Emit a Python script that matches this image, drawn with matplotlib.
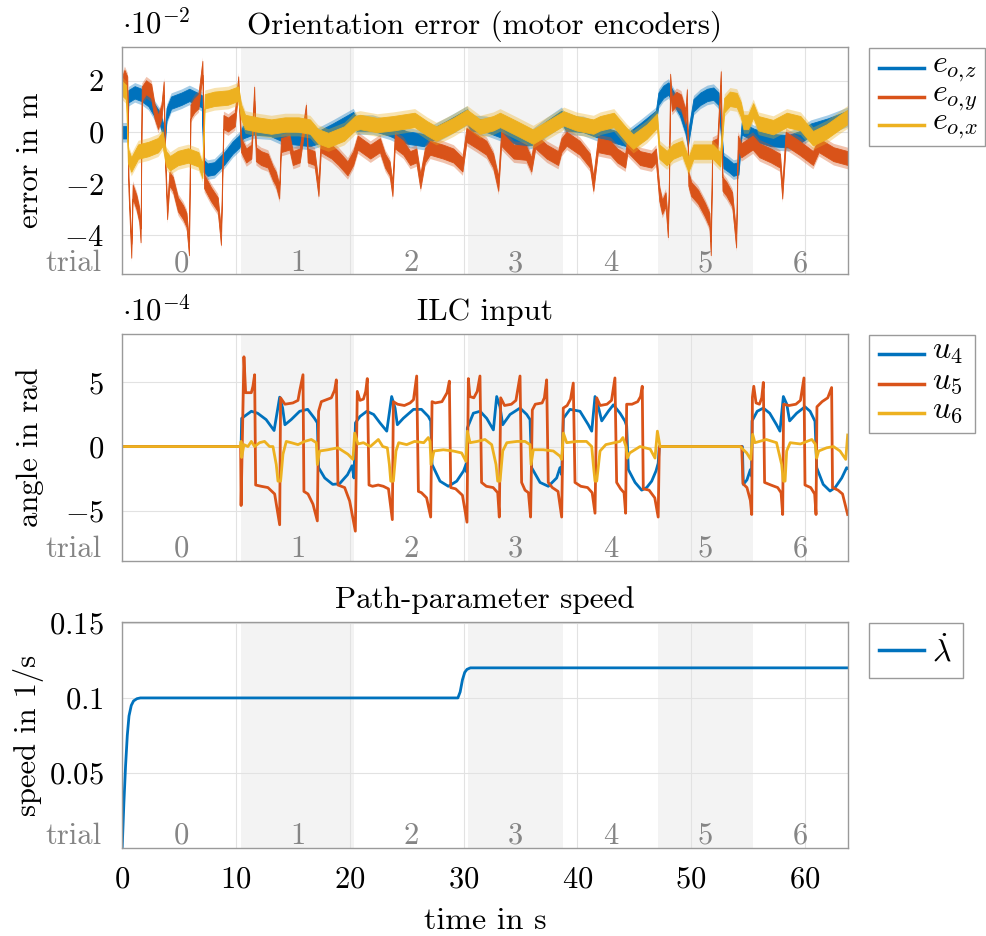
import numpy as np
import matplotlib.pyplot as plt
from matplotlib.lines import Line2D
from matplotlib.patches import Rectangle
from matplotlib.transforms import blended_transform_factory

plt.rcParams['font.family'] = 'serif'
plt.rcParams['font.serif'] = ['cmr10']
plt.rcParams['mathtext.fontset'] = 'cm'
plt.rcParams['axes.unicode_minus'] = False
plt.rcParams['font.size'] = 22

c_blue = '#0072BD'
c_orange = '#D95319'
c_yellow = '#EDB120'
c_gray = '#858585'

# trial boundaries in s
trial_edges = [0.0, 10.44, 20.37, 30.36, 38.7, 47.1, 55.4, 63.75]
trial_names = ['0', '1', '2', '3', '4', '5', '6']

# orientation error (x 1e-2), knots read per series
eoz_t = [0.0, 0.45, 0.55, 1.1, 1.7, 2.3, 2.85, 3.3, 3.6, 3.75, 3.9, 4.3, 5.2, 5.9, 6.6, 7.0, 7.15, 7.5, 8.1,
         9.0, 9.7, 10.3, 10.6, 11.5, 13.0, 14.5, 16.5, 17.2, 18.5, 20.3, 20.6, 22.0, 23.5, 25.0, 26.5, 27.2,
         28.5, 30.3, 30.6, 32.0, 33.5, 35.0, 36.0, 37.3, 38.6, 39.0, 40.5, 42.0, 43.5, 44.3, 45.5, 46.9, 47.12,
         47.55, 48.0, 48.3, 49.0, 49.5, 49.7, 50.2, 50.8, 51.4, 51.95, 52.4, 52.83, 53.3, 53.7, 54.15, 54.44,
         55.5, 57.0, 58.5, 59.5, 60.5, 62.0, 63.75]
eoz_v = [0.0, 0.0, 1.4, 1.55, 1.45, 1.25, 0.85, 0.55, 0.1, -0.2, 0.7, 1.15, 1.3, 1.45, 1.3, 1.2, -1.3, -1.45, -1.4,
         -1.0, -0.6, -0.35, 0.0, 0.15, 0.1, -0.2, -0.3, -0.2, 0.1, 0.55, 0.3, 0.3, 0.1, -0.2, -0.3, -0.1,
         0.2, 0.65, 0.3, 0.25, 0.0, -0.3, -0.25, 0.2, 0.6, 0.3, 0.25, 0.0, -0.2, -0.3, 0.1, 0.6, 1.3,
         1.57, 1.7, 1.45, 0.9, 0.2, -0.3, 1.05, 1.3, 1.45, 1.5, 1.3, -1.15, -1.3, -1.45, -1.4, 0.15,
         -0.1, -0.3, -0.35, -0.2, 0.1, 0.3, 0.6]

eoy_t = [0.0, 0.2, 0.45, 0.55, 0.8, 0.92, 1.25, 1.5, 1.62, 1.72, 2.1, 2.55, 2.85, 3.15, 3.45, 3.65, 3.78, 3.95,
         4.15, 4.45, 4.9, 5.35, 5.65, 5.87, 6.0, 6.35, 6.7, 7.05, 7.2, 7.8, 8.4, 8.68, 8.9, 9.3, 9.9, 10.2,
         10.45, 10.9, 11.35, 11.6, 11.75, 12.2, 12.8, 13.25, 13.5, 13.8, 13.95, 14.7, 15.0, 15.6, 16.15, 16.3,
         16.9, 17.25, 17.45, 18.4, 19.0, 19.8, 20.3, 20.7, 21.8, 22.65, 23.1, 23.5, 23.75, 23.95, 24.7, 25.3,
         25.85, 26.2, 26.6, 27.05, 28.2, 29.1, 29.9, 30.25, 31.15, 32.0, 32.6, 33.05, 33.3, 34.4, 35.5, 35.95,
         36.3, 37.3, 38.3, 38.6, 39.05, 40.2, 41.1, 41.4, 41.8, 42.9, 43.5, 44.2, 44.4, 45.5, 46.5, 46.9,
         47.2, 47.45, 47.75, 47.95, 48.05, 48.15, 48.3, 48.7, 49.1, 49.5, 49.62, 49.75, 50.0, 50.6, 51.2,
         51.6, 51.72, 51.85, 52.3, 52.6, 52.75, 53.1, 53.6, 53.95, 54.1, 54.4, 55.4, 56.0, 57.0, 57.8, 58.0,
         58.3, 59.5, 60.7, 61.2, 62.5, 63.75]
eoy_v = [1.9, 2.15, 1.9, -2.0, -4.6, -2.3, -2.7, -3.2, -4.0, 1.5, 1.75, 1.6, 0.8, 0.4, 0.8, 1.7, -1.1, -3.1,
         -1.8, -2.0, -2.8, -3.1, -3.4, -4.5, 0.8, 1.05, 1.2, 2.5, -1.9, -2.4, -2.8, -4.1, 0.4, 0.3, 0.5, 1.9,
         -0.5, -0.9, -0.75, 1.5, -0.85, -1.0, -1.1, -1.6, -1.8, -2.3, -0.5, -0.4, -1.0, -0.9, 0.8, -0.9,
         -1.0, -2.2, -0.5, -0.75, -1.0, -1.4, -1.0, -0.4, -0.75, -0.5, -1.1, -1.4, -2.2, -0.35, -0.6, -1.0,
         -0.9, -1.9, -0.9, -0.6, -0.75, -0.9, -1.25, -0.1, -0.35, -0.6, -1.1, -2.0, -0.25, -0.75, -0.8, -1.25,
         -0.35, -0.75, -1.0, -0.5, -0.25, -0.6, -1.1, -2.0, -0.5, -0.6, -0.9, -1.1, -0.5, -1.0, -1.1, -0.9,
         -2.4, -2.9, -2.6, -3.8, -2.0, 2.0, 1.1, 1.3, 1.2, 0.6, 1.4, -1.8, -2.2, -2.5, -3.0,
         -3.4, -4.5, -0.6, -0.5, 2.1, -2.0, -2.2, -2.6, -4.2, -0.4, -0.7, -0.4, -0.7, -0.9, -1.1, -2.3,
         -0.25, -0.6, -1.0, -0.5, -0.85, -1.0]

eox_t = [0.0, 0.35, 0.5, 0.8, 1.4, 2.3, 3.15, 3.55, 3.85, 4.2, 4.9, 5.8, 6.7, 7.05, 7.25, 8.1, 9.3, 10.2, 10.45,
         10.8, 11.9, 13.1, 14.3, 15.5, 16.5, 17.2, 18.1, 19.5, 20.45, 20.9, 22.4, 23.8, 25.7, 26.8, 27.6, 29.1,
         30.3, 31.45, 32.6, 33.2, 34.7, 36.1, 37.3, 38.8, 39.9, 41.4, 42.0, 43.2, 44.3, 44.9, 46.1, 47.0, 47.2,
         47.85, 48.4, 49.2, 49.75, 50.2, 51.9, 52.55, 52.9, 53.4, 54.0, 54.35, 54.6, 55.0, 55.45, 55.9, 57.2,
         58.4, 59.6, 60.7, 61.9, 63.1, 63.75]
eox_v = [1.7, 1.55, -0.9, -1.25, -0.75, -0.65, -0.5, -0.25, -1.0, -1.2, -1.0, -0.9, -1.05, -1.5, 1.2, 1.3, 1.35,
         1.5, 0.8, 0.4, 0.3, 0.22, 0.3, 0.3, 0.22, -0.15, -0.3, -0.05, 0.35, 0.4, 0.28, 0.35, 0.48, 0.15, -0.05,
         0.28, 0.6, 0.22, 0.35, 0.48, 0.15, -0.17, 0.15, 0.54, 0.35, 0.22, 0.35, 0.48, -0.1, -0.36, 0.03, 0.45,
         -0.75, -1.0, -0.75, -0.6, -1.25, -0.75, -0.75, -1.05, 1.05, 1.3, 1.25, 0.9, 0.4, 0.4, 0.85, 0.35, 0.2,
         0.48, 0.35, -0.23, 0.03, 0.41, 0.6]

# noise band half widths (x 1e-2): solid core and sparse fringe
eoz_noise = (0.24, 0.38)
eoy_noise = (0.27, 0.42)
eox_noise = (0.28, 0.44)

# ILC input (x 1e-4)
u4_t = [0.0, 10.45, 10.5, 11.35, 11.9, 12.65, 13.35, 13.84, 14.1, 14.3, 14.85, 15.6, 16.3, 16.9, 17.15, 17.26,
        17.8, 18.5, 19.1, 19.8, 20.2, 20.37, 20.5, 20.9, 21.5, 22.1, 22.65, 23.25, 23.68, 23.98, 24.18, 24.7,
        25.6, 26.3, 26.9, 27.11, 27.23, 27.93, 28.66, 29.4, 30.0, 30.21, 30.28, 30.33, 30.86, 31.45, 32.03,
        32.62, 32.91, 33.2, 33.44, 34.08, 34.96, 35.55, 35.84, 35.98, 36.72, 37.45, 38.18, 38.47, 38.62, 38.77,
        39.35, 40.23, 40.96, 41.26, 41.55, 41.84, 42.14, 42.72, 43.16, 43.75, 44.19, 44.33, 44.48, 45.07,
        45.65, 46.09, 46.53, 46.91, 47.1, 47.2, 54.5, 54.58, 54.9, 55.2, 55.3, 55.35, 55.8, 56.34, 56.9, 57.5,
        57.8, 58.1, 58.4, 58.65, 59.27, 60.0, 60.45, 60.88, 61.03, 61.6, 62.2, 62.65, 63.23, 63.66, 63.75]
u4_v = [0.0, 0.0, 2.2, 2.75, 2.6, 2.1, 1.25, 3.85, 3.0, 1.7, 2.1, 2.75, 2.9, 2.2, 1.85, -1.65,
        -2.45, -2.95, -2.9, -2.2, -1.5, -2.45, 1.85, 2.35, 2.75, 2.5, 1.85, 1.2, 3.9, 3.0, 1.7, 2.2,
        2.9, 2.9, 2.35, 2.0, -1.4, -2.7, -3.1, -2.7, -1.9, -1.4, -2.0, 1.45, 2.6, 2.75, 2.2,
        1.3, 3.9, 3.1, 1.7, 2.5, 3.0, 2.5, 2.1, -1.65, -2.8, -3.1, -2.45, -1.65, -2.2, 2.2,
        2.9, 2.75, 1.7, 1.2, 3.9, 3.1, 2.0, 2.75, 3.25, 2.6, 1.97, 1.6, -1.8, -2.8,
        -3.4, -3.2, -2.7, -1.9, -1.3, 0.0, 0.0, -2.95, -2.6, -1.8, -2.3, 2.0, 2.75, 3.0, 2.6, 1.7,
        1.2, 3.9, 3.3, 2.0, 2.6, 3.1, 2.75, 1.97, -1.65, -2.95, -3.47, -3.2, -2.45, -1.65, -1.7]

u5_t = [0.0, 10.41, 10.45, 10.7, 10.85, 11.35, 11.49, 11.64, 11.73, 12.22, 12.81, 13.4, 13.84, 13.92, 14.3, 15.0,
        15.45, 15.59, 15.89, 15.97, 16.33, 16.77, 17.15, 17.26, 17.5, 18.38, 18.67, 18.82, 18.96, 19.55, 19.99,
        20.49, 20.66, 20.9, 21.2, 21.4, 21.54, 21.69, 22.0, 22.5, 22.95, 23.4, 23.74, 23.83, 24.2, 24.8, 25.3,
        25.6, 25.88, 26.03, 26.3, 26.75, 27.11, 27.23, 27.5, 28.1, 28.55, 28.75, 28.87, 29.3, 29.9, 30.3,
        30.42, 30.55, 30.9, 31.2, 31.44, 31.58, 32.0, 32.6, 33.0, 33.14, 33.26, 33.6, 34.2, 34.6, 34.96, 35.1,
        35.4, 35.7, 35.89, 36.04, 36.3, 36.9, 37.1, 37.3, 37.44, 37.8, 38.3, 38.62, 38.76, 39.1, 39.4, 39.64,
        39.79, 40.3, 40.9, 41.3, 41.55, 41.7, 42.0, 42.6, 43.0, 43.3, 43.45, 43.8, 44.1, 44.24, 44.33, 44.8,
        45.3, 45.55, 45.7, 45.79, 46.3, 46.8, 47.1, 47.2, 54.44, 54.55, 54.9, 55.2, 55.32, 55.38, 55.5, 55.7,
        56.0, 56.2, 56.34, 56.45, 57.0, 57.6, 57.9, 58.04, 58.12, 58.6, 59.2, 59.6, 59.91, 60.0, 60.5, 60.85,
        60.97, 61.05, 61.5, 62.0, 62.34, 62.42, 62.9, 63.3, 63.75]
u5_v = [0.0, 0.0, -4.6, 7.0, 4.2, 4.2, 4.7, 5.6, -3.0, -3.1, -3.2, -3.7, -6.1, 3.8, 3.3, 3.4,
        3.6, 4.3, 5.6, -3.5, -3.7, -4.5, -5.8, 2.75, 3.5, 3.8, 4.4, 5.2, -3.0, -3.2, -4.25,
        -6.6, 4.3, 3.6, 3.7, 4.3, 5.3, -3.0, -3.1, -3.0, -3.1, -3.3, -5.7, 3.5, 3.3, 3.2, 3.4,
        3.65, 5.5, -3.5, -3.6, -4.0, -5.5, 3.5, 3.4, 3.5, 4.2, 5.1, -3.2, -3.3, -3.8, -5.9,
        5.3, 3.9, 3.8, 4.3, 5.5, -2.8, -3.1, -3.2, -3.6, -5.5, 3.8, 3.2, 3.3, 3.6, 5.5, -2.8,
        -3.4, -3.6, -5.5, 2.85, 3.3, 3.4, 3.8, 5.2, -2.8, -3.2, -3.5, -5.5, 3.0, 3.2, 3.7, 4.95,
        -2.8, -3.1, -3.2, -3.6, -5.2, 3.8, 3.2, 3.3, 3.6, 5.35, -2.8, -3.3, -3.6, -5.2, 3.3, 3.3,
        3.5, 3.9, 4.7, -3.3, -3.4, -4.0, -5.5, 0.0, 0.0, -2.9, -3.2, -4.2, -5.3, 3.85, 4.7, 3.4,
        3.3, 3.8, 5.0, -2.8, -3.0, -3.2, -3.6, -5.3, 3.3, 3.2, 3.3, 3.6, 5.35, -3.0, -3.2, -3.7,
        -5.3, 3.1, 3.5, 3.8, 4.6, -3.2, -3.4, -3.7, -5.3]

u6_t = [0.0, 10.41, 10.45, 10.5, 10.7, 11.05, 11.35, 11.64, 12.07, 12.51, 12.95, 13.25, 13.54, 13.69, 13.92,
        14.13, 14.42, 14.86, 15.45, 16.03, 16.62, 17.06, 17.15, 17.35, 18.08, 18.96, 19.84, 20.28, 20.43,
        20.72, 21.2, 21.8, 22.51, 22.9, 23.3, 23.48, 23.6, 23.83, 24.06, 24.3, 25.0, 25.7, 26.5, 26.9, 27.05,
        27.14, 27.4, 28.22, 29.1, 29.83, 30.21, 30.33, 30.57, 31.2, 31.88, 32.47, 32.85, 33.0, 33.2, 33.44,
        33.8, 34.7, 35.4, 35.84, 35.93, 36.13, 37.0, 37.89, 38.47, 38.62, 38.77, 39.06, 39.94, 40.8, 41.26,
        41.4, 41.55, 41.7, 41.99, 42.5, 43.75, 44.0, 44.27, 44.39, 44.6, 45.5, 46.4, 46.82, 47.03, 47.26,
        54.29, 54.88, 55.23, 55.4, 55.6, 56.0, 56.6, 57.5, 57.95, 58.1, 58.25, 58.39, 58.7, 59.6, 60.6, 60.9,
        61.03, 61.2, 61.9, 62.5, 63.08, 63.58, 63.75]
u6_v = [0.0, 0.0, 0.4, -0.85, 0.15, 0.0, 0.4, 0.0, 0.3, 0.4, 0.0, 0.0, -1.4, -2.7, -2.7,
        -0.6, 0.4, 0.3, 0.15, 0.4, 0.55, 0.3, -1.4, -0.35, -0.25, -0.1, -0.6, -1.0, 1.05,
        0.2, 0.3, 0.0, 0.55, 0.0, -0.1, -1.4, -2.7, -2.7, -0.35, 0.3, 0.15, 0.4, 0.3, 0.7, 0.4,
        -1.4, -0.35, -0.25, -0.35, -0.5, -1.15, 1.2, 0.3, 0.4, 0.55, 0.15, -1.4, -2.7, -2.7, -0.35,
        0.3, 0.4, 0.4, 0.15, -1.4, -0.25, -0.25, -0.35, -0.75, -1.0, 1.05, 0.3, 0.4, 0.4, 0.0,
        -1.4, -2.7, -2.7, -0.35, 0.15, 0.4, 0.7, 0.0, -0.9, -0.5, 0.0, -0.2, -0.9, 1.2, 0.0,
        0.0, -0.5, -1.0, 0.95, 0.3, 0.4, 0.55, 0.3, -1.4, -2.7, -2.7, -0.35, 0.3, 0.2, 0.55, 0.2,
        -0.9, -0.35, -0.1, 0.0, -0.35, -1.0, 0.9]

# path-parameter speed in 1/s
lam_t = [0.0, 0.15, 0.3, 0.45, 0.6, 0.8, 1.0, 1.3, 1.6, 29.5, 29.7, 29.9, 30.1, 30.3, 30.6, 63.75]
lam_v = [0.0, 0.03, 0.055, 0.075, 0.088, 0.095, 0.098, 0.0995, 0.1, 0.1, 0.104, 0.112, 0.117, 0.119, 0.12, 0.12]

W, H = 986, 936
fig = plt.figure(figsize=(W / 100, H / 100), dpi=100)
ax1 = fig.add_axes([0.1239, 0.7073, 0.7358, 0.2422])
ax2 = fig.add_axes([0.1239, 0.4010, 0.7358, 0.2418])
ax3 = fig.add_axes([0.1239, 0.0937, 0.7358, 0.2421])


def style_axes(ax, yticks, ylabels, ylim, trial_y, ylabel, title):
    for i in (1, 3, 5):
        ax.axvspan(trial_edges[i], trial_edges[i + 1], color='#f3f3f3', lw=0, zorder=0)
    ax.set_xlim(0, trial_edges[-1])
    ax.set_ylim(*ylim)
    ax.set_xticks([0, 10, 20, 30, 40, 50, 60])
    ax.set_yticks(yticks)
    ax.set_yticklabels(ylabels)
    ax.set_axisbelow(True)
    ax.grid(color='#e2e2e2', lw=0.8)
    ax.tick_params(length=0, pad=13)
    for sp in ax.spines.values():
        sp.set_color('#9a9a9a')
        sp.set_linewidth(1.0)
    for i, name in enumerate(trial_names):
        mid = 0.5 * (trial_edges[i] + trial_edges[i + 1])
        ax.text(mid, trial_y, name, color=c_gray, ha='center', va='baseline')
    tr = blended_transform_factory(ax.transAxes, ax.transData)
    ax.text(-0.028, trial_y, 'trial', color=c_gray, ha='right', va='baseline', transform=tr)
    ax.set_ylabel(ylabel, fontsize=22)
    ax.yaxis.set_label_coords(-0.108, 0.5)
    ax.set_title(title, pad=10, fontsize=22.4)


def legend_box(box, rows, colors, labels, base_off):
    # box and rows in figure pixels from the top-left corner
    x0, y0, x1, y1 = box
    fig.add_artist(Rectangle((x0 / W, 1 - y1 / H), (x1 - x0) / W, (y1 - y0) / H,
                             transform=fig.transFigure, facecolor='white',
                             edgecolor='#9a9a9a', lw=1.0))
    for y, c, lab in zip(rows, colors, labels):
        fig.add_artist(Line2D([879 / W, 924 / W], [1 - y / H, 1 - y / H],
                              transform=fig.transFigure, color=c, lw=2.5))
        fig.text(932 / W, 1 - (y + base_off) / H, lab, ha='left', va='baseline', fontsize=23)


# orientation error
style_axes(ax1, [-4, -2, 0, 2], [r'$-4$', r'$-2$', r'$0$', r'$2$'], (-5.5, 3.3), -5.4,
           'error in m', 'Orientation error (motor encoders)')
for t, v, w, c in ((eoz_t, eoz_v, eoz_noise, c_blue), (eoy_t, eoy_v, eoy_noise, c_orange),
                   (eox_t, eox_v, eox_noise, c_yellow)):
    t = np.array(t)
    v = np.array(v)
    ax1.fill_between(t, v - w[1], v + w[1], color=c, lw=0, alpha=0.35)
    ax1.fill_between(t, v - w[0], v + w[0], color=c, lw=0.6, edgecolor=c)
ax1.text(0.0, 1.035, r'$\cdot 10^{-2}$', transform=ax1.transAxes, ha='left', va='bottom')
ax1.tick_params(labelbottom=False)
legend_box((869, 47.5, 985, 146), [68, 97, 125], [c_blue, c_orange, c_yellow],
           [r'$e_{o,\!z}$', r'$e_{o,\!y}$', r'$e_{o,\!x}$'], 4)

# ILC input
style_axes(ax2, [-5, 0, 5], [r'$-5$', r'$0$', r'$5$'], (-8.9, 8.75), -8.6,
           'angle in rad', 'ILC input')
ax2.plot(u4_t, u4_v, color=c_blue, lw=2.0)
ax2.plot(u5_t, u5_v, color=c_orange, lw=2.0)
ax2.plot(u6_t, u6_v, color=c_yellow, lw=2.0)
ax2.text(0.0, 1.035, r'$\cdot 10^{-4}$', transform=ax2.transAxes, ha='left', va='bottom')
ax2.tick_params(labelbottom=False)
legend_box((869, 335, 975, 433), [354, 384, 413], [c_blue, c_orange, c_yellow],
           [r'$u_4$', r'$u_5$', r'$u_6$'], 5)

# path-parameter speed
style_axes(ax3, [0.05, 0.1, 0.15], [r'$0.05$', r'$0.1$', r'$0.15$'], (0.0, 0.1507), 0.003,
           'speed in 1/s', 'Path-parameter speed')
ax3.plot(lam_t, lam_v, color=c_blue, lw=2.0)
ax3.set_xticklabels([r'$%d$' % x for x in [0, 10, 20, 30, 40, 50, 60]])
ax3.set_xlabel('time in s', labelpad=10, fontsize=23)
legend_box((869, 622.7, 963, 678), [650], [c_blue], [r'$\dot{\lambda}$'], 12)

fig.savefig('out.png', dpi=100)
